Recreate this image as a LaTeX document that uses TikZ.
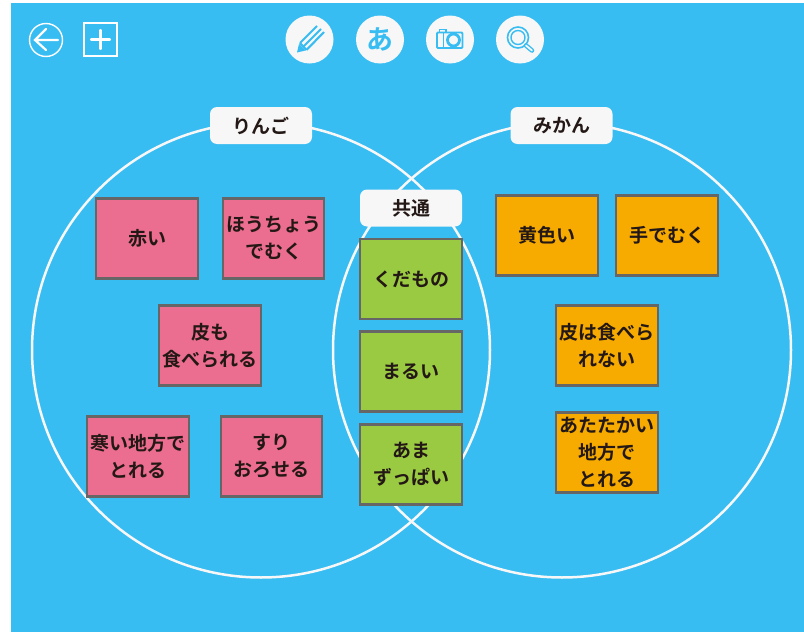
\documentclass[tikz,border=0pt]{standalone}
\usepackage{fontspec}
\setmainfont{Noto Sans CJK JP}[BoldFont={Noto Sans CJK JP Bold}]
\usetikzlibrary{positioning}
\definecolor{skyblue}{HTML}{38BDF2}
\definecolor{notepink}{HTML}{EB6D8F}
\definecolor{noteorange}{HTML}{F7AB00}
\definecolor{notegreen}{HTML}{9ACA41}
\definecolor{noteline}{HTML}{666666}
\definecolor{inktext}{HTML}{231815}
\definecolor{paper}{HTML}{F7F7F7}
\tikzset{
    note/.style={draw=noteline,line width=2.4pt,minimum width=101.5pt,minimum height=80pt,
        inner sep=0pt,align=center,text=inktext,font=\bfseries\fontsize{19}{26.8}\selectfont},
    pinknote/.style={note,fill=notepink},
    orangenote/.style={note,fill=noteorange},
    greennote/.style={note,fill=notegreen},
    tag/.style={fill=paper,rounded corners=7pt,minimum width=102pt,minimum height=37pt,
        inner sep=0pt,text=inktext,font=\bfseries\fontsize{19}{22}\selectfont},
    toolbtn/.style={circle,fill=paper,minimum size=48pt,inner sep=0pt},
    ring/.style={draw=paper,line width=2.5pt},
    iconline/.style={draw=skyblue,line width=1.9pt},
    whiteline/.style={draw=white,line width=1.4pt,line cap=round}
}
\begin{document}
\begin{tikzpicture}[x=1pt,y=-1pt]
    \useasboundingbox (0,0) rectangle (804,632);
    \fill[white] (0,0) rectangle (804,632);
    \fill[skyblue] (11,3) rectangle (804,632);

    %the two sets
    \draw[ring] (261,350) ellipse (229 and 227.5);
    \draw[ring] (562,350) ellipse (229 and 227.5);

    %back and add buttons
    \node[circle,whiteline,minimum size=33pt,inner sep=0pt] (backbtn) at (46,40) {};
    \draw[whiteline,line width=2.2pt] (58,40) -- (35,40) (46,29) -- (35,40) -- (46,50);
    \node[whiteline,minimum size=33pt,inner sep=0pt] (addbtn) at (100.5,39.5) {};
    \draw[whiteline,line width=2.2pt] (91,39.5) -- (110,39.5) (100.5,30) -- (100.5,49);

    %tool buttons
    \node[toolbtn] (penbtn) at (309.5,39.5) {};
    \node[toolbtn,text=skyblue,font=\bfseries\fontsize{27}{27}\selectfont] (kanabtn) at (380,39.5) {あ};
    \node[toolbtn] (camerabtn) at (450,39.5) {};
    \node[toolbtn] (searchbtn) at (520,39.5) {};

    %pencil
    \fill[skyblue] (297,52.5) -- (299,44) -- (305.5,50.5) -- cycle;
    \draw[iconline,line width=2.1pt] (300,43) -- (317,26) (303,47) -- (321,29) (306.5,50) -- (324,32);
    \draw[iconline,line width=2.1pt] (300,43) -- (306.5,50);

    %camera
    \draw[iconline,rounded corners=1pt] (437,32.5) -- (462.5,32.5) -- (462.5,48) -- (437,48) -- cycle;
    \draw[iconline,line width=1.6pt] (439.5,32) -- (439.5,29.5) -- (446,29.5) -- (446,32) (443.5,33) -- (443.5,48);
    \draw[skyblue,line width=2.8pt,fill=paper] (453.5,40) circle (6);

    %magnifier
    \draw[iconline,line width=1.6pt] (518,37.5) circle (10.5);
    \draw[iconline,line width=1.4pt] (518,37.5) circle (7);
    \draw[skyblue,line width=4.6pt,line cap=round] (526,45.5) -- (532,50.5);
    \draw[paper,line width=1.8pt,line cap=round] (526,45.5) -- (532,50.5);

    %set names
    \node[tag] (apple) at (261,125.5) {りんご};
    \node[tag] (orange) at (561.5,125.5) {みかん};
    \node[tag] (both) at (411,208) {共通};

    %left set
    \node[pinknote] (red) at (147,238.5) {赤い};
    \node[pinknote] (knife) at (273.5,238.5) {ほうちょう\\でむく};
    \node[pinknote] (skin) at (210,345.5) {皮も\\食べられる};
    \node[pinknote] (cold) at (138,456.5) {寒い地方で\\とれる};
    \node[pinknote] (grate) at (271.5,456.5) {すり\\おろせる};

    %common part
    \node[greennote] (fruit) at (411,279) {くだもの};
    \node[greennote] (round) at (411,371.5) {まるい};
    \node[greennote] (sweet) at (411,464.5) {あま\\ずっぱい};

    %right set
    \node[orangenote] (yellow) at (547,235.5) {黄色い};
    \node[orangenote] (peel) at (667,235.5) {手でむく};
    \node[orangenote] (noskin) at (607,345.5) {皮は食べら\\れない};
    \node[orangenote] (warm) at (607,452.5) {あたたかい\\地方で\\とれる};
\end{tikzpicture}
\end{document}
